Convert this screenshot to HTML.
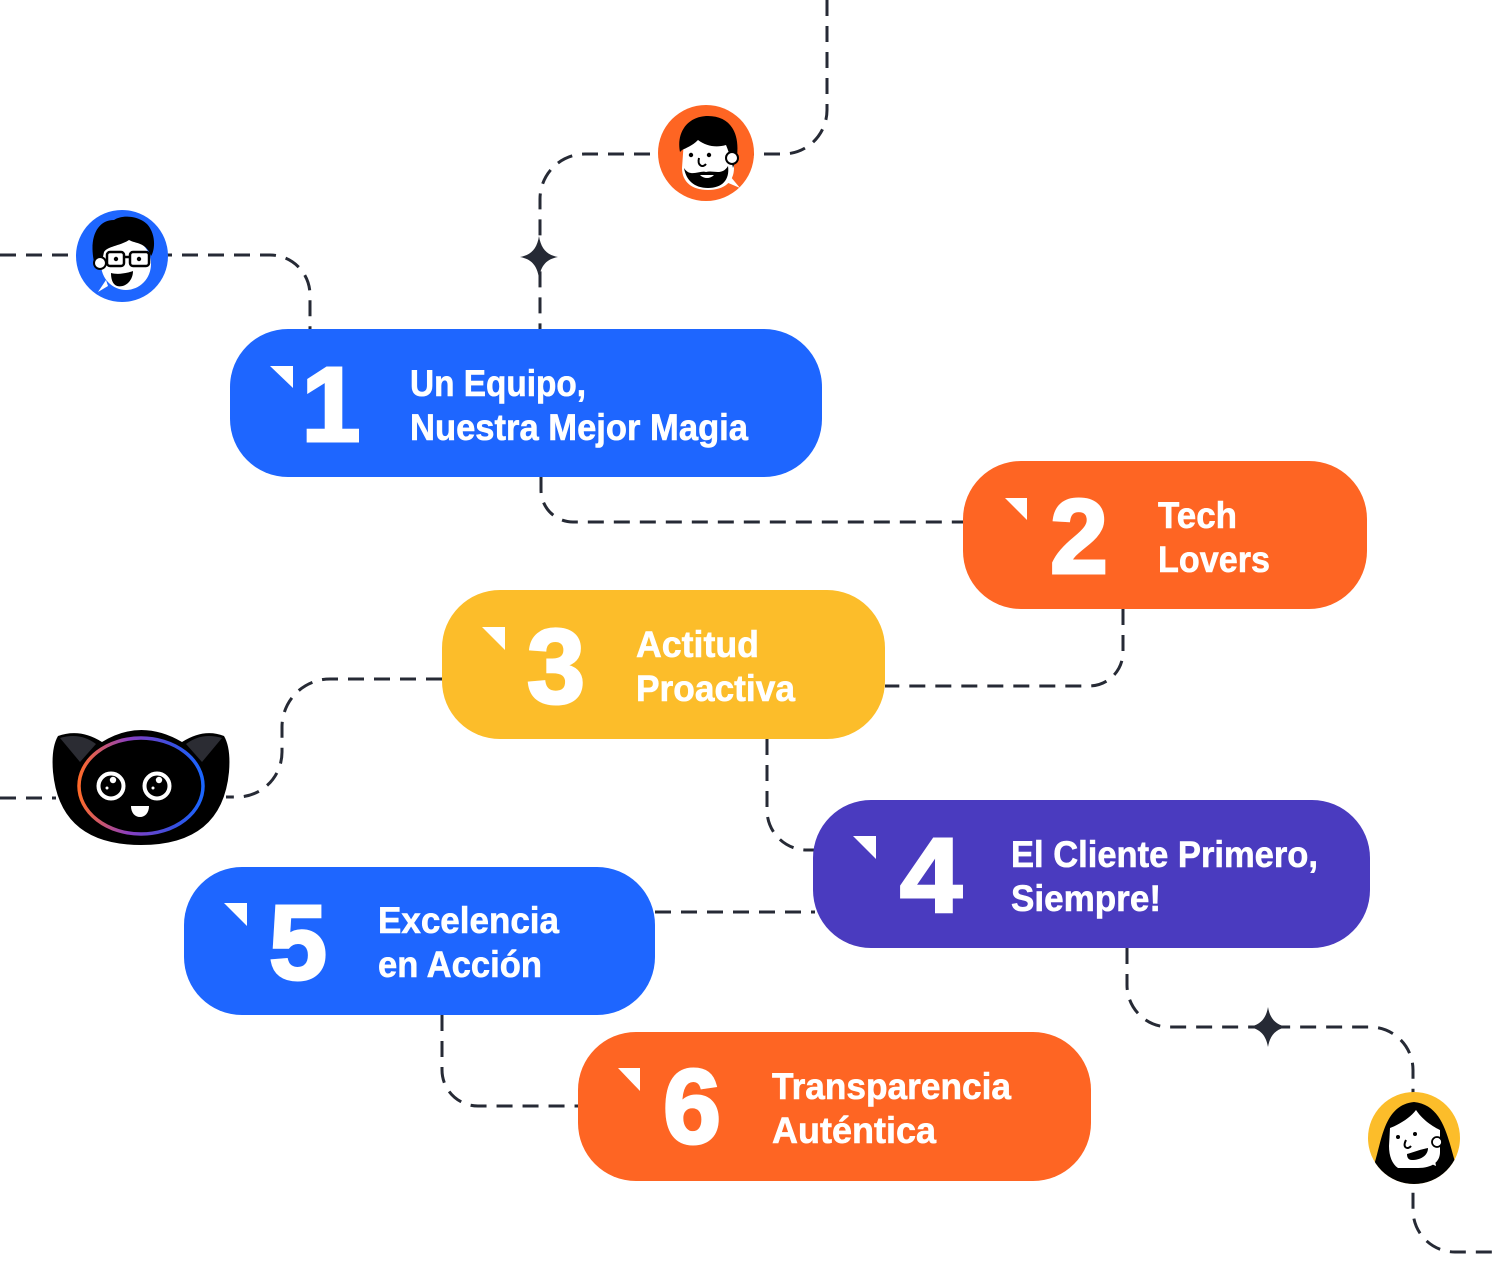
<!DOCTYPE html>
<html>
<head>
<meta charset="utf-8">
<style>
  html,body{margin:0;padding:0;background:#ffffff;}
  body{width:1500px;height:1264px;overflow:hidden;}
  svg{display:block;}
  .lbl{font-family:"Liberation Sans",sans-serif;font-weight:bold;font-size:37px;fill:#ffffff;stroke:#ffffff;stroke-width:0.6;}
  .num{font-family:"Liberation Sans",sans-serif;font-weight:bold;font-size:106px;fill:#ffffff;stroke:#ffffff;stroke-width:3;}
</style>
</head>
<body>
<svg width="1500" height="1264" viewBox="0 0 1500 1264" xmlns="http://www.w3.org/2000/svg">
  <defs>
    <linearGradient id="ring" x1="0" y1="0" x2="1" y2="0">
      <stop offset="0" stop-color="#ff6a2a"/>
      <stop offset="0.4" stop-color="#8a3fc0"/>
      <stop offset="0.75" stop-color="#3b4fe0"/>
      <stop offset="1" stop-color="#1a66ff"/>
    </linearGradient>
    <clipPath id="cY"><circle cx="1414" cy="1138" r="46"/></clipPath>
    <clipPath id="cO"><circle cx="706" cy="153" r="48"/></clipPath>
    <clipPath id="cB"><circle cx="122" cy="256" r="46"/></clipPath>
  </defs>

  <!-- dashed connectors -->
  <g fill="none" stroke="#262a35" stroke-width="3" stroke-dasharray="16 10">
    <path d="M827,0 V110 A44,44 0 0 1 783,154 H585 A45,45 0 0 0 540,199 V329"/>
    <path d="M0,255 H270 A40,40 0 0 1 310,295 V329"/>
    <path d="M541,477 V490 A32,32 0 0 0 573,522 H963"/>
    <path d="M1123,609 V652 A34,34 0 0 1 1089,686 H885"/>
    <path d="M442,679 H330 A48,48 0 0 0 282,727 V752 A45,45 0 0 1 237,797 H226"/>
    <path d="M0,798 H56"/>
    <path d="M767,739 V810 A40,40 0 0 0 807,850 H815"/>
    <path d="M655,912 H815"/>
    <path d="M1127,948 V985 A42,42 0 0 0 1169,1027 H1370 A43,43 0 0 1 1413,1070 V1210 A42,42 0 0 0 1455,1252 H1500"/>
    <path d="M442,1015 V1070 A36,36 0 0 0 478,1106 H578"/>
  </g>

  <!-- stars -->
  <path transform="translate(539,257)" fill="#262a35" d="M0,-21 C2,-8 8,-2 19,0 C8,2 2,8 0,21 C-2,8 -8,2 -19,0 C-8,-2 -2,-8 0,-21Z"/>
  <path transform="translate(1268,1027)" fill="#262a35" d="M0,-20 C2,-8 8,-2 19,0 C8,2 2,8 0,20 C-2,8 -8,2 -19,0 C-8,-2 -2,-8 0,-20Z"/>

  <!-- boxes -->
  <rect x="230" y="329" width="592" height="148" rx="58" ry="58" fill="#1e66ff"/>
  <rect x="963" y="461" width="404" height="148" rx="58" ry="58" fill="#fe6523"/>
  <rect x="442" y="590" width="443" height="149" rx="58" ry="58" fill="#fcbd2a"/>
  <rect x="813" y="800" width="557" height="148" rx="58" ry="58" fill="#4a3bbf"/>
  <rect x="184" y="867" width="471" height="148" rx="58" ry="58" fill="#1e66ff"/>
  <rect x="578" y="1032" width="513" height="149" rx="58" ry="58" fill="#fe6523"/>

  <!-- triangles -->
  <g fill="#ffffff">
    <polygon points="270,366 293,366 293,388"/>
    <polygon points="1005,498 1027,498 1027,520"/>
    <polygon points="482,627 505,627 505,650"/>
    <polygon points="853,836 876,836 876,859"/>
    <polygon points="224,903 247,903 247,926"/>
    <polygon points="618,1068 640,1068 640,1091"/>
  </g>

  <!-- numbers -->
  <text class="num" x="331" y="441" text-anchor="middle">1</text>
  <text class="num" x="1079" y="573" text-anchor="middle" textLength="58" lengthAdjust="spacingAndGlyphs">2</text>
  <text class="num" x="556" y="703" text-anchor="middle" textLength="58" lengthAdjust="spacingAndGlyphs">3</text>
  <text class="num" x="931" y="912" text-anchor="middle" textLength="62" lengthAdjust="spacingAndGlyphs">4</text>
  <text class="num" x="298" y="979" text-anchor="middle" textLength="58" lengthAdjust="spacingAndGlyphs">5</text>
  <text class="num" x="692" y="1143" text-anchor="middle" textLength="58" lengthAdjust="spacingAndGlyphs">6</text>

  <!-- labels -->
  <text class="lbl" x="410" y="396" textLength="176" lengthAdjust="spacingAndGlyphs">Un Equipo,</text>
  <text class="lbl" x="410" y="440" textLength="338" lengthAdjust="spacingAndGlyphs">Nuestra Mejor Magia</text>
  <text class="lbl" x="1158" y="528" textLength="79" lengthAdjust="spacingAndGlyphs">Tech</text>
  <text class="lbl" x="1158" y="572" textLength="112" lengthAdjust="spacingAndGlyphs">Lovers</text>
  <text class="lbl" x="636" y="657" textLength="123" lengthAdjust="spacingAndGlyphs">Actitud</text>
  <text class="lbl" x="636" y="701" textLength="159" lengthAdjust="spacingAndGlyphs">Proactiva</text>
  <text class="lbl" x="1011" y="867" textLength="307" lengthAdjust="spacingAndGlyphs">El Cliente Primero,</text>
  <text class="lbl" x="1011" y="911" textLength="150" lengthAdjust="spacingAndGlyphs">Siempre!</text>
  <text class="lbl" x="378" y="933" textLength="181" lengthAdjust="spacingAndGlyphs">Excelencia</text>
  <text class="lbl" x="378" y="977" textLength="164" lengthAdjust="spacingAndGlyphs">en Acción</text>
  <text class="lbl" x="772" y="1099" textLength="239" lengthAdjust="spacingAndGlyphs">Transparencia</text>
  <text class="lbl" x="772" y="1143" textLength="164" lengthAdjust="spacingAndGlyphs">Auténtica</text>

  <!-- blue avatar (glasses) -->
  <circle cx="122" cy="256" r="46" fill="#1e66ff"/>
  <g clip-path="url(#cB)">
    <path d="M108,286 L98,292 L106,280 Z" fill="#ffffff"/>
    <ellipse cx="126" cy="264" rx="25" ry="26" fill="#ffffff"/>
    <path d="M95,266 C88,240 96,220 114,220 C124,213 146,217 151,230 C156,240 154,252 151,256 C146,242 136,244 129,240 C120,246 108,246 104,252 L101,266 Z" fill="#000000"/>
    <circle cx="100" cy="263" r="6" fill="#ffffff" stroke="#000" stroke-width="2"/>
    <rect x="107" y="252" width="17" height="14" rx="3" fill="none" stroke="#000" stroke-width="2.5"/>
    <rect x="130" y="252" width="19" height="14" rx="3" fill="none" stroke="#000" stroke-width="2.5"/>
    <line x1="124" y1="257" x2="130" y2="257" stroke="#000" stroke-width="2.5"/>
    <circle cx="116" cy="259" r="2.2" fill="#000"/>
    <circle cx="139" cy="259" r="2.2" fill="#000"/>
    <path d="M111,273 C118,275 128,273 133,271 C133,281 125,288 117,286 C112,284 111,278 111,273 Z" fill="#000"/>
  </g>

  <!-- orange avatar (beard) -->
  <circle cx="706" cy="153" r="48" fill="#fe6523"/>
  <g clip-path="url(#cO)">
    <path d="M684,140 C684,128 692,118 706,118 C724,118 734,130 734,148 L734,168 C734,182 724,190 708,190 C692,190 682,182 682,168 Z" fill="#ffffff"/>
    <path d="M680,152 C676,132 688,116 708,116 C728,116 740,130 737,156 L733,168 C731,158 728,150 726,145 C716,148 706,146 698,140 C692,146 686,148 682,150 Z" fill="#000"/>
    <circle cx="732" cy="158" r="6" fill="#ffffff" stroke="#000" stroke-width="2"/>
    <path d="M684,168 C690,178 700,170 706,172 C714,170 722,176 728,166 C730,180 722,188 708,188 C694,188 686,180 684,168 Z" fill="#000"/>
    <path d="M700,175 C704,179 710,179 714,175 Z" fill="#fff"/>
    <path d="M726,182 L740,188 L730,176 Z" fill="#ffffff"/>
    <circle cx="691" cy="155" r="2.2" fill="#000"/>
    <circle cx="709" cy="155" r="2.2" fill="#000"/>
    <path d="M699,158 C697,166 703,168 706,164" fill="none" stroke="#000" stroke-width="2"/>
  </g>

  <!-- yellow avatar (long hair) -->
  <circle cx="1414" cy="1138" r="46" fill="#fcbd2a"/>
  <g clip-path="url(#cY)">
    <path d="M1374,1165 C1382,1140 1384,1105 1414,1102 C1444,1105 1448,1140 1456,1165 L1470,1200 L1360,1200 Z" fill="#000"/>
    <path d="M1390,1128 C1400,1124 1410,1118 1416,1110 C1424,1122 1436,1128 1440,1130 L1440,1152 C1440,1162 1432,1168 1418,1168 L1398,1168 C1392,1164 1389,1156 1389,1146 Z" fill="#ffffff"/>
    <circle cx="1437" cy="1142" r="5" fill="#fff" stroke="#000" stroke-width="1.8"/>
    <path d="M1434,1155 L1436,1166 L1427,1162 Z" fill="#fff"/>
    <circle cx="1398" cy="1137" r="2" fill="#000"/>
    <circle cx="1415" cy="1134" r="2" fill="#000"/>
    <path d="M1406,1140 C1402,1148 1408,1150 1411,1146" fill="none" stroke="#000" stroke-width="2"/>
    <path d="M1407,1154 C1414,1152 1422,1149 1428,1148 C1428,1156 1420,1160 1412,1160 C1408,1160 1407,1157 1407,1154 Z" fill="#000"/>
  </g>

  <!-- cat mascot -->
  <path d="M58,736 Q80,728 102,742 Q141,718 182,742 Q204,728 224,736 Q231,748 229,772 Q222,845 141,845 Q60,845 53,772 Q51,748 58,736 Z" fill="#000000"/>
  <path d="M60,738 Q80,732 96,744 L80,762 Z" fill="#2b2c33"/>
  <path d="M222,738 Q202,732 186,744 L202,762 Z" fill="#2b2c33"/>
  <ellipse cx="141" cy="786" rx="62" ry="48" fill="none" stroke="url(#ring)" stroke-width="3.5"/>
  <circle cx="111" cy="786" r="12.5" fill="#000" stroke="#fff" stroke-width="4"/>
  <circle cx="157" cy="786" r="12.5" fill="#000" stroke="#fff" stroke-width="4"/>
  <circle cx="113" cy="780" r="3.2" fill="#fff"/>
  <circle cx="107" cy="788" r="1.5" fill="#fff"/>
  <circle cx="159" cy="780" r="3.2" fill="#fff"/>
  <circle cx="153" cy="788" r="1.5" fill="#fff"/>
  <path d="M131,806 L149,806 C149,813 145,817 140,817 C135,817 131,813 131,806 Z" fill="#fff"/>
</svg>
</body>
</html>
